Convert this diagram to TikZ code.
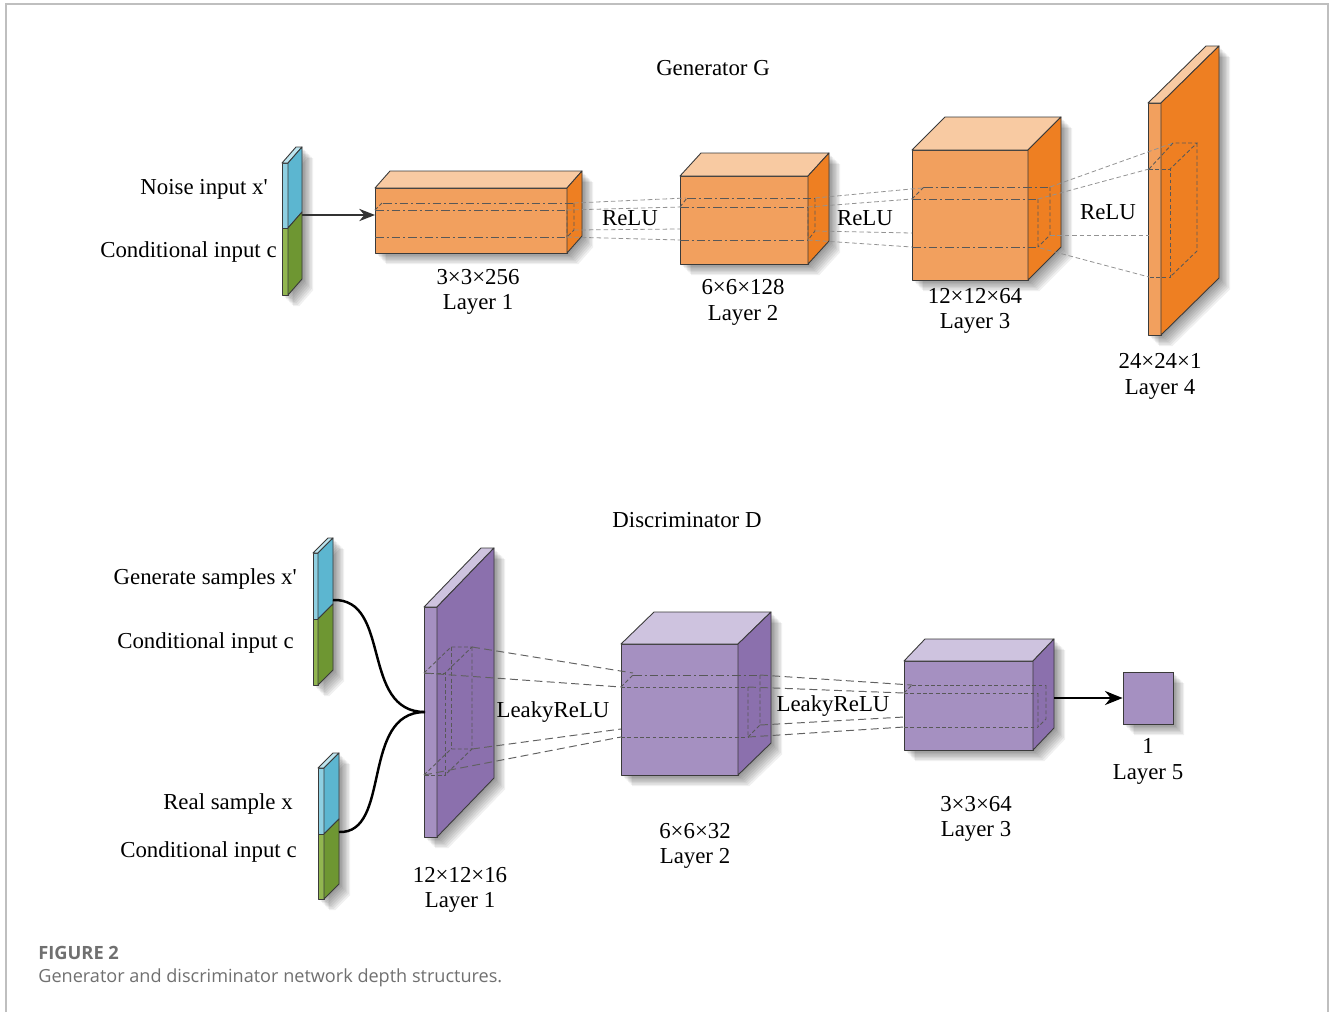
\documentclass[tikz,border=0pt]{standalone}
\usepackage{fontspec}
\setmainfont{Liberation Serif}
\newfontfamily\capfont{Open Sans}
\usetikzlibrary{arrows.meta}

\definecolor{orFront}{HTML}{F2A05E}
\definecolor{orTop}{HTML}{F8CAA2}
\definecolor{orSide}{HTML}{EE7F22}
\definecolor{puFront}{HTML}{A590C1}
\definecolor{puTop}{HTML}{CEC3DF}
\definecolor{puSide}{HTML}{8B70AD}
\definecolor{blFront}{HTML}{8FD0E2}
\definecolor{blTop}{HTML}{BDE5EF}
\definecolor{blSide}{HTML}{5CB6D0}
\definecolor{grFront}{HTML}{92B650}
\definecolor{grSide}{HTML}{6E9632}
\definecolor{edgec}{HTML}{3A3A3A}
\definecolor{capgray}{HTML}{707070}

\tikzset{
  face/.style={draw=edgec, line width=0.5pt, line join=round},
  shadowlayer/.style={fill=black, fill opacity=0.06, draw=none},
  kdash/.style={draw=edgec!85, line width=0.55pt, dash pattern=on 5pt off 1.6pt on 1.2pt off 1.6pt},
  kedge/.style={draw=edgec!85, line width=0.5pt, dash pattern=on 2.2pt off 1.4pt},
  projg/.style={draw=gray!85, line width=0.45pt, dash pattern=on 2.6pt off 1.6pt},
  projd/.style={draw=edgec!80, line width=0.55pt, dash pattern=on 4.5pt off 2.5pt},
  lbl/.style={inner sep=0pt},
  frameline/.style={draw=black!25, line width=0.6pt},
  flow/.style={draw=black, line width=1.4pt},
}

% soft drop shadow of a cuboid silhouette: x1 y1 x2 y2 dx dy
\newcommand\softshadow[6]{%
  \foreach \s in {1,...,8}{%
    \fill[shadowlayer, shift={({1.4*\s},{1.4*\s})}]
      (#1,#2) -- ({#1+#5},{#2-#6}) -- ({#3+#5},{#2-#6})
      -- ({#3+#5},{#4-#6}) -- (#3,#4) -- (#1,#4) -- cycle;
  }%
}

% cuboid: x1 y1 x2 y2 (front face), depth dx dy, front/top/side colours
\newcommand\cuboid[9]{%
  \softshadow{#1}{#2}{#3}{#4}{#5}{#6}
  \filldraw[face, fill=#7] (#1,#2) rectangle (#3,#4);
  \filldraw[face, fill=#8] (#1,#2) -- ({#1+#5},{#2-#6}) -- ({#3+#5},{#2-#6}) -- (#3,#2) -- cycle;
  \filldraw[face, fill=#9] (#3,#2) -- ({#3+#5},{#2-#6}) -- ({#3+#5},{#4-#6}) -- (#3,#4) -- cycle;
}

% two-part input bar: x1 y1 x2 ysplit y2 dx dy
\newcommand\inbar[7]{%
  \softshadow{#1}{#2}{#3}{#5}{#6}{#7}
  \filldraw[face, fill=blFront] (#1,#2) rectangle (#3,#4);
  \filldraw[face, fill=grFront] (#1,#4) rectangle (#3,#5);
  \filldraw[face, fill=blTop] (#1,#2) -- ({#1+#6},{#2-#7}) -- ({#3+#6},{#2-#7}) -- (#3,#2) -- cycle;
  \filldraw[face, fill=blSide] (#3,#2) -- ({#3+#6},{#2-#7}) -- ({#3+#6},{#4-#7}) -- (#3,#4) -- cycle;
  \filldraw[face, fill=grSide] (#3,#4) -- ({#3+#6},{#4-#7}) -- ({#3+#6},{#5-#7}) -- (#3,#5) -- cycle;
}

\begin{document}
\begin{tikzpicture}[x=0.02cm, y=-0.02cm, font=\fontsize{13}{15}\selectfont]
\useasboundingbox (0,0) rectangle (1332,1012);
\fill[white] (0,0) rectangle (1332,1012);
\draw[frameline] (6,1012) -- (6,4) -- (1328,4) -- (1328,1012);

% ================= Generator =================
\node[lbl] (titleG) at (713,68) {Generator G};

\inbar{282}{163}{288}{228}{295}{14}{16}
\node[lbl, anchor=east] (gNoise) at (268,189) {Noise input x\textquotesingle};
\node[lbl, anchor=east] (gCond) at (277,252) {Conditional input c};

\cuboid{375}{188}{567}{253}{15}{17}{orFront}{orTop}{orSide}
\cuboid{680}{176}{808}{264}{21}{23}{orFront}{orTop}{orSide}
\cuboid{912}{150}{1028}{280}{33}{33}{orFront}{orTop}{orSide}
\cuboid{1148}{103}{1161}{335}{58}{57}{orFront}{orTop}{orSide}

\coordinate (gOut) at (302,215);
\coordinate (gL1in) at (375,215);
\draw[line width=0.7pt, draw=black!80, -{Stealth[length=9pt,width=7pt]}] (gOut) -- (gL1in);

% kernel volume through layer 1
\draw[kdash] (383,203) -- (574,203);
\draw[kdash] (375,210) -- (567,210);
\draw[kdash] (375,237) -- (567,237);
\draw[kedge] (375,210) -- (382,203);
\draw[kedge] (567,210) -- (567,237) (574,203) -- (574,230) -- (567,237);
% projection layer 1 -> layer 2
\draw[projg] (574,203) -- (686,198);
\draw[projg] (567,210) -- (680,207);
\draw[projg] (574,230) -- (680,229);
\draw[projg] (567,237) -- (680,240);

% kernel volume through layer 2
\draw[kdash] (687,198) -- (815,198);
\draw[kdash] (680,207) -- (808,207);
\draw[kdash] (680,240) -- (808,240);
\draw[kedge] (680,207) -- (687,198);
\draw[kedge] (808,207) -- (808,240) (815,198) -- (815,231) -- (808,240);
% projection layer 2 -> layer 3
\draw[projg] (815,198) -- (922,188);
\draw[projg] (808,207) -- (912,199);
\draw[projg] (815,231) -- (912,233);
\draw[projg] (808,240) -- (912,247);

% kernel volume through layer 3
\draw[kdash] (924,187) -- (1050,187);
\draw[kdash] (912,199) -- (1038,199);
\draw[kdash] (912,247) -- (1038,247);
\draw[kedge] (912,199) -- (924,187);
\draw[kedge] (1038,199) -- (1038,247) (1050,187) -- (1050,235) -- (1038,247);
% projection layer 3 -> layer 4
\draw[projg] (1050,187) -- (1173,143);
\draw[projg] (1038,199) -- (1149,169);
\draw[projg] (1050,235) -- (1149,235);
\draw[projg] (1040,248) -- (1149,277);
% receptive block in layer 4
\draw[kedge] (1149,169) -- (1170,169) -- (1170,277) -- (1149,277);
\draw[kedge] (1149,169) -- (1173,143) -- (1197,143) -- (1170,169);
\draw[kedge] (1197,143) -- (1197,251) -- (1170,277);

\node[lbl] (relu1) at (630,218) {ReLU};
\node[lbl] (relu2) at (865,218) {ReLU};
\node[lbl] (relu3) at (1108,212) {ReLU};

\node[lbl] (g1a) at (478,277) {3×3×256};
\node[lbl] (g1b) at (478,304) {Layer 1};
\node[lbl] (g2a) at (743,287) {6×6×128};
\node[lbl] (g2b) at (743,315) {Layer 2};
\node[lbl] (g3a) at (975,296) {12×12×64};
\node[lbl] (g3b) at (975,323) {Layer 3};
\node[lbl] (g4a) at (1160,361) {24×24×1};
\node[lbl] (g4b) at (1160,389) {Layer 4};

% ================= Discriminator =================
\node[lbl] (titleD) at (687,520) {Discriminator D};

\inbar{313}{553}{318}{619}{685}{15}{15}
\inbar{318}{768}{324}{834}{899}{15}{15}
\node[lbl, anchor=east] (dGen) at (297,579) {Generate samples x\textquotesingle};
\node[lbl, anchor=east] (dCond1) at (294,643) {Conditional input c};
\node[lbl, anchor=east] (dReal) at (293,804) {Real sample x};
\node[lbl, anchor=east] (dCond2) at (297,852) {Conditional input c};

\cuboid{424}{607}{437}{837}{57}{59}{puFront}{puTop}{puSide}
\cuboid{621}{644}{738}{775}{33}{32}{puFront}{puTop}{puSide}
\cuboid{904}{661}{1033}{750}{21}{22}{puFront}{puTop}{puSide}

\coordinate (bar1out) at (333,600);
\coordinate (bar2out) at (339,832);
\coordinate (dL1in) at (425,712);
\draw[flow] (bar1out) .. controls (392,598) and (360,712) .. (dL1in);
\draw[flow] (bar2out) .. controls (392,834) and (360,712) .. (dL1in);

% receptive block in layer 1
\draw[kedge] (424,673) -- (445,673) -- (445,775) -- (424,775);
\draw[kedge] (424,673) -- (451,647) -- (472,647) -- (445,673);
\draw[kedge] (472,647) -- (472,749) -- (445,775);
\draw[kedge] (424,775) -- (451,749) -- (472,749);
\draw[kedge] (451,647) -- (451,749);
% projection layer 1 -> layer 2
\draw[projd] (472,647) -- (633,673);
\draw[projd] (424,673) -- (621,687);
\draw[projd] (472,749) -- (621,729);
\draw[projd] (424,775) -- (621,737);

% kernel volume through layer 2
\draw[kdash] (633,675) -- (760,675);
\draw[kedge] (621,687) -- (748,687);
\draw[kedge] (621,737) -- (748,737);
\draw[kedge] (621,687) -- (633,675);
\draw[kedge] (748,687) -- (748,737) (760,675) -- (760,725) -- (748,737);
% projection layer 2 -> layer 3
\draw[projd] (760,675) -- (912,685);
\draw[projd] (748,687) -- (904,693);
\draw[projd] (760,725) -- (904,717);
\draw[projd] (748,737) -- (904,727);

% kernel volume through layer 3
\draw[kedge] (912,685) -- (1046,685);
\draw[kedge] (904,693) -- (1038,693);
\draw[kedge] (904,727) -- (1038,727);
\draw[kedge] (904,693) -- (912,685);
\draw[kedge] (1038,693) -- (1038,727) (1046,685) -- (1046,719) -- (1038,727);

\node[lbl] (leaky1) at (553,712) {LeakyReLU};
\node[lbl] (leaky2) at (833,706) {LeakyReLU};

% output unit
\softshadow{1123}{672}{1173}{724}{0}{0}
\node[draw=edgec, line width=0.5pt, fill=puFront, minimum width=50*0.02cm,
      minimum height=52*0.02cm, inner sep=0pt] (l5) at (1148,698) {};
\coordinate (dL3out) at (1054,698);
\draw[flow, -{Stealth[length=10pt,width=8pt]}] (dL3out) -- (l5.west);

\node[lbl] (d1a) at (460,875) {12×12×16};
\node[lbl] (d1b) at (460,902) {Layer 1};
\node[lbl] (d2a) at (695,831) {6×6×32};
\node[lbl] (d2b) at (695,858) {Layer 2};
\node[lbl] (d3a) at (976,804) {3×3×64};
\node[lbl] (d3b) at (976,831) {Layer 3};
\node[lbl] (d5a) at (1148,746) {1};
\node[lbl] (d5b) at (1148,774) {Layer 5};

% ================= Caption =================
\node[lbl, anchor=west, text=capgray, font=\capfont\bfseries\fontsize{10.4}{12}\selectfont] (figno) at (38,953) {FIGURE 2};
\node[lbl, anchor=west, text=capgray, font=\capfont\fontsize{10.3}{12}\selectfont] (figcap) at (38,978) {Generator and discriminator network depth structures.};
\end{tikzpicture}
\end{document}
